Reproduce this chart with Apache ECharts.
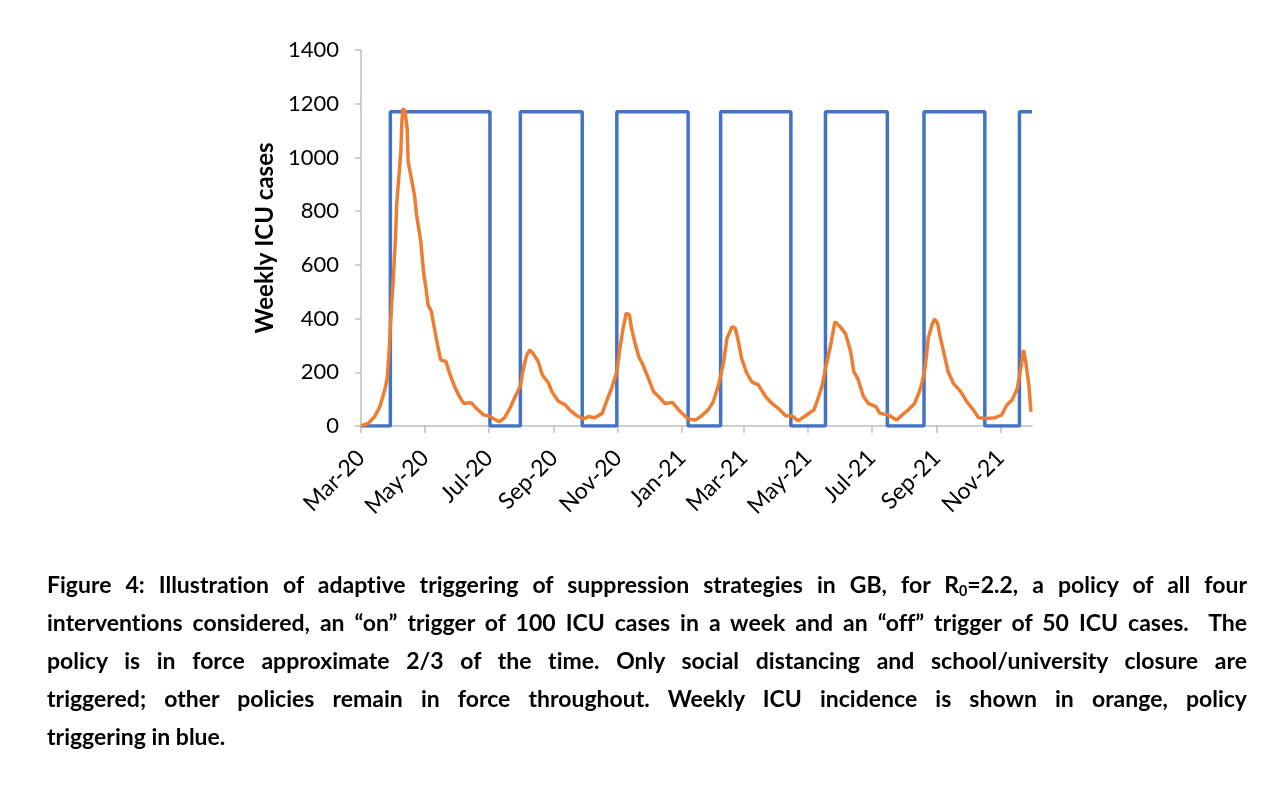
<!DOCTYPE html>
<html>
<head>
<meta charset="utf-8">
<title>Adaptive triggering</title>
<script src="https://cdn.jsdelivr.net/npm/echarts@6/dist/echarts.min.js"></script>
<style>
html, body { margin: 0; padding: 0; background: #fff; }
#chart { position: absolute; left: 0; top: 0; width: 1278px; height: 790px; }
#caption {
	position: absolute; left: 47px; top: 565px; width: 1200px;
	font-family: Lato, "Noto Sans", sans-serif; font-weight: bold;
	font-size: 23px; line-height: 38px; color: #000;
	font-variant-ligatures: none;
}
#caption div { height: 38px; white-space: nowrap; text-align: justify; text-align-last: justify; }
#caption div.last { text-align-last: left; }
#caption sub { font-size: 0.62em; line-height: 0; vertical-align: baseline; position: relative; top: 0.2em; }
</style>
</head>
<body>
<div id="chart"></div>
<div id="caption">
	<div>Figure 4: Illustration of adaptive triggering of suppression strategies in GB, for R<sub>0</sub>=2.2, a policy of all four</div>
	<div>interventions considered, an “on” trigger of 100 ICU cases in a week and an “off” trigger of 50 ICU cases.&nbsp; The</div>
	<div>policy is in force approximate 2/3 of the time. Only social distancing and school/university closure are</div>
	<div>triggered; other policies remain in force throughout. Weekly ICU incidence is shown in orange, policy</div>
	<div class="last">triggering in blue.</div>
</div>
<script>
// axis range (daily categories)
var startDate = '2020-03-01';
var endDate = '2021-12-01';
var monthNames = ['Jan','Feb','Mar','Apr','May','Jun','Jul','Aug','Sep','Oct','Nov','Dec'];
var yTicks = { min: 0, max: 1400, step: 200 };

// weekly ICU cases (orange)
var icuDates = [
	'2020-03-01','2020-03-08','2020-03-14','2020-03-19','2020-03-24','2020-03-26','2020-03-28','2020-03-30',
	'2020-04-01','2020-04-03','2020-04-04','2020-04-06','2020-04-08','2020-04-09','2020-04-10','2020-04-12',
	'2020-04-14','2020-04-15','2020-04-18','2020-04-21','2020-04-23','2020-04-25','2020-04-27','2020-04-30',
	'2020-05-02','2020-05-04','2020-05-07','2020-05-10','2020-05-13','2020-05-16','2020-05-21','2020-05-25','2020-05-30',
	'2020-06-03','2020-06-07','2020-06-14','2020-06-19','2020-06-26',
	'2020-07-02','2020-07-05','2020-07-11','2020-07-16','2020-07-21','2020-07-26','2020-07-31',
	'2020-08-03','2020-08-06','2020-08-09','2020-08-12','2020-08-17','2020-08-21','2020-08-27','2020-08-30',
	'2020-09-05','2020-09-12','2020-09-16','2020-09-23','2020-09-29',
	'2020-10-04','2020-10-10','2020-10-17','2020-10-21','2020-10-26','2020-10-31',
	'2020-11-03','2020-11-06','2020-11-09','2020-11-12','2020-11-14','2020-11-17','2020-11-21','2020-11-25','2020-11-30',
	'2020-12-05','2020-12-10','2020-12-16','2020-12-23','2020-12-29',
	'2021-01-03','2021-01-07','2021-01-14','2021-01-20','2021-01-26','2021-01-31',
	'2021-02-05','2021-02-10','2021-02-13','2021-02-18','2021-02-21','2021-02-24','2021-02-27',
	'2021-03-04','2021-03-09','2021-03-15','2021-03-22','2021-03-28',
	'2021-04-03','2021-04-10','2021-04-16','2021-04-22','2021-04-29',
	'2021-05-07','2021-05-11','2021-05-15','2021-05-18','2021-05-23','2021-05-27',
	'2021-06-01','2021-06-06','2021-06-11','2021-06-14','2021-06-18','2021-06-23','2021-06-28',
	'2021-07-05','2021-07-09','2021-07-17','2021-07-25','2021-07-30',
	'2021-08-05','2021-08-11','2021-08-15','2021-08-18','2021-08-21','2021-08-24','2021-08-28','2021-08-30',
	'2021-09-02','2021-09-04','2021-09-08','2021-09-12','2021-09-17','2021-09-24','2021-09-30',
	'2021-10-06','2021-10-11','2021-10-19','2021-10-27',
	'2021-11-02','2021-11-07','2021-11-12','2021-11-17','2021-11-20','2021-11-23','2021-11-25','2021-11-28','2021-11-30'
];
var icuValues = [
	0, 10, 35, 72, 140, 178, 289, 438,
	562, 711, 823, 922, 1021, 1133, 1183, 1170,
	1108, 984, 922, 860, 786, 736, 686, 562,
	513, 450, 428, 364, 302, 246, 240, 190, 140,
	109, 84, 87, 66, 41,
	37, 28, 16, 31, 66, 109, 150,
	215, 264, 283, 271, 240, 190, 159, 128,
	93, 78, 60, 38, 26,
	35, 31, 47, 90, 140, 202,
	289, 364, 420, 413, 364, 314, 258, 227, 178,
	128, 109, 84, 88, 60,
	41, 26, 22, 38, 60, 90,
	153, 240, 326, 370, 364, 314, 252,
	196, 163, 153, 109, 84,
	66, 38, 38, 19, 38,
	60, 103, 153, 215, 302, 388,
	370, 345, 277, 202, 175, 112, 84,
	72, 47, 41, 22, 41,
	60, 84, 122, 159, 215, 326, 382, 398,
	382, 339, 271, 202, 159, 128, 90,
	60, 31, 28, 31,
	41, 78, 97, 140, 208, 283, 240, 153, 53
];

// policy triggering (blue): switch dates and level after each switch
var policyDates = [
	'2020-03-01','2020-03-29','2020-07-02','2020-07-31','2020-09-28','2020-10-31','2021-01-07',
	'2021-02-07','2021-04-15','2021-05-18','2021-07-16','2021-08-20','2021-10-17','2021-11-19','2021-12-01'
];
var policyValues = [0, 1170, 0, 1170, 0, 1170, 0, 1170, 0, 1170, 0, 1170, 0, 1170, 1170];

function pad(n) { return (n < 10 ? '0' : '') + n; }

function buildDays(from, to) {
	var list = [];
	var t = Date.parse(from + 'T00:00:00Z');
	var end = Date.parse(to + 'T00:00:00Z');
	while (t <= end) {
		var d = new Date(t);
		list.push(d.getUTCFullYear() + '-' + pad(d.getUTCMonth() + 1) + '-' + pad(d.getUTCDate()));
		t += 86400000;
	}
	return list;
}

function isTickDay(index, value) {
	var p = value.split('-');
	return p[2] === '01' && (+p[1]) % 2 === 1;
}

function pairs(xs, ys) {
	var out = [];
	for (var i = 0; i < xs.length; i++) {
		out.push([xs[i], ys[i]]);
	}
	return out;
}

var days = buildDays(startDate, endDate);
var chart = echarts.init(document.getElementById('chart'));
var axisGray = '#bfbfbf';
var font = 'Lato, "Noto Sans", sans-serif';

chart.setOption({
	animation: false,
	grid: { left: 361, right: 246, top: 50, bottom: 364 },
	xAxis: {
		type: 'category',
		data: days,
		boundaryGap: false,
		axisLine: { lineStyle: { color: axisGray, width: 1.5 } },
		axisTick: { show: true, interval: isTickDay, length: 7, lineStyle: { color: axisGray, width: 1.5 } },
		axisLabel: {
			interval: isTickDay,
			rotate: 45,
			margin: 28,
			color: '#000',
			fontFamily: font,
			fontSize: 23,
			formatter: function (value) {
				var p = value.split('-');
				return monthNames[+p[1] - 1] + '-' + p[0].slice(2);
			}
		},
		splitLine: { show: false }
	},
	yAxis: {
		type: 'value',
		min: yTicks.min,
		max: yTicks.max,
		interval: yTicks.step,
		name: 'Weekly ICU cases',
		nameLocation: 'middle',
		nameGap: 82,
		nameTextStyle: { color: '#000', fontFamily: font, fontSize: 24, fontWeight: 'bold' },
		axisLine: { show: true, lineStyle: { color: axisGray, width: 1.5 } },
		axisTick: { show: true, length: 6, lineStyle: { color: axisGray, width: 1.5 } },
		axisLabel: {
			color: '#000', fontFamily: font, fontSize: 22, margin: 22,
			formatter: function (v) { return String(v); }
		},
		splitLine: { show: false }
	},
	series: [
		{
			name: 'Policy triggering',
			type: 'line',
			step: 'end',
			data: pairs(policyDates, policyValues),
			symbol: 'none',
			lineStyle: { color: '#4472c4', width: 3.5 }
		},
		{
			name: 'Weekly ICU cases',
			type: 'line',
			data: pairs(icuDates, icuValues),
			symbol: 'none',
			lineStyle: { color: '#ed7d31', width: 3.5 }
		}
	]
});
</script>
</body>
</html>
